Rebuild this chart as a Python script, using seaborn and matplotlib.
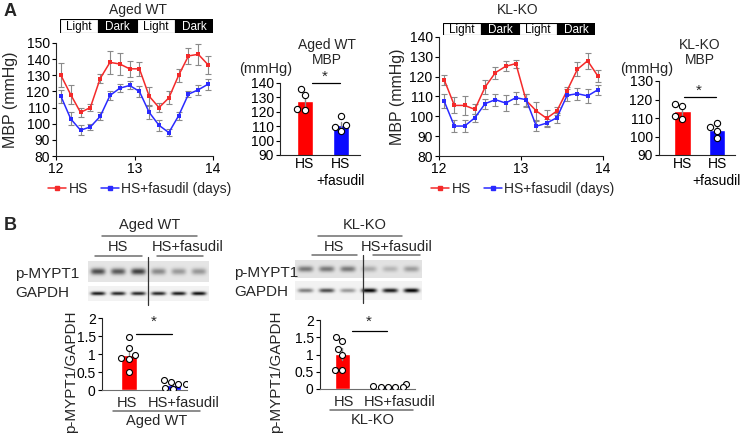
import numpy as np
import pandas as pd
import matplotlib
matplotlib.use("Agg")
import matplotlib.pyplot as plt
from matplotlib.lines import Line2D
from matplotlib.patches import Rectangle
import seaborn as sns

sns.set_style("ticks")
plt.rcParams["font.family"] = ["Liberation Sans", "DejaVu Sans"]
plt.rcParams["axes.linewidth"] = 0.8

W, H, DPI = 748, 441, 100
RED = "#ff0000"; BLUE = "#0a0aff"
RED_L = "#f42a2a"; BLUE_L = "#2a2aff"
ERR = "#8a8a8a"; GRAY = "#6e6e6e"

# ---------------- data ----------------
days = [12.0625, 12.1875, 12.3125, 12.4375, 12.5625, 12.6875, 12.8125, 12.9375,
        13.0625, 13.1875, 13.3125, 13.4375, 13.5625, 13.6875, 13.8125, 13.9375]
phases = ["Light", "Dark", "Light", "Dark"]
groups = ["HS", "HS+fasudil"]

wt_hs = [130, 118, 107, 110, 128, 138, 137, 134, 134, 117, 110, 116, 130, 142, 143, 136.5]
wt_hs_err = [7.5, 6, 3, 2, 3, 7, 7, 5, 4.5, 5.5, 3, 4, 4, 5, 6.5, 5.5]
wt_fa = [117, 103, 96, 98, 104.5, 117.5, 122, 123.7, 120, 107, 99, 94.5, 105, 118.3, 121, 124.5]
wt_fa_err = [4, 4, 3, 2, 2.5, 2.5, 2.5, 2.5, 3.5, 4, 3.5, 2, 2.5, 2, 3, 3.5]

ko_hs = [118.5, 105.5, 105.5, 103.5, 114.8, 122, 125.2, 126.6, 108, 102.7, 99, 102.7, 113, 123.7, 128, 120.3]
ko_hs_err = [2.5, 4, 5, 2.5, 3.5, 3, 2.5, 2, 3.5, 4.5, 4, 2, 2, 3.5, 4, 3]
ko_fa = [107.7, 95.1, 95.1, 99.3, 106.4, 108.4, 106.7, 109.4, 108.4, 95, 96.6, 99.3, 110.6, 111.4, 110.3, 113.4]
ko_fa_err = [3.5, 3, 3, 2, 2.5, 3, 4, 3, 3, 2.5, 2, 2.5, 3, 3, 3.5, 2.5]

wt_mbp_hs = [136, 131.5, 121.5, 122]
wt_mbp_fa = [117, 110.5, 109.5, 106.5]
ko_mbp_hs = [117.8, 116.5, 109.7, 111]
ko_mbp_fa = [107.5, 105, 99, 103]

wt_ratio_hs = [1.46, 1.18, 0.96, 0.87, 0.90, 0.49]
wt_ratio_fa = [0.16, 0.28, 0.22, 0.05, 0.03, 0.16]
ko_ratio_hs = [1.50, 1.40, 1.16, 1.00, 0.54, 0.54]
ko_ratio_fa = [0.15, 0.10, 0.07, 0.05, 0.07, 0.06]

# blot band intensities (lanes: HS x3, HS+fasudil x3)
wt_pmypt1 = [0.60, 0.55, 0.65, 0.36, 0.30, 0.31]
wt_gapdh = [0.85, 0.80, 0.80, 0.80, 0.85, 0.90]
ko_pmypt1 = [0.42, 0.42, 0.42, 0.22, 0.18, 0.28]
ko_gapdh = [0.45, 0.65, 0.35, 0.95, 0.85, 0.95]

# ---------------- helpers ----------------
fig = plt.figure(figsize=(W / DPI, H / DPI), dpi=DPI)


def add_ax(l, t, r, b):
    return fig.add_axes([l / W, 1 - b / H, (r - l) / W, (b - t) / H])


def ftext(x, y, s, **kw):
    kw.setdefault("ha", "center")
    kw.setdefault("va", "center")
    kw.setdefault("fontsize", 10)
    fig.text(x / W, 1 - y / H, s, **kw)


def hline(x0, x1, y, color="black", lw=0.9):
    fig.add_artist(Line2D([x0 / W, x1 / W], [1 - y / H, 1 - y / H],
                          transform=fig.transFigure, color=color, lw=lw))


def vline(x, y0, y1, color="#333333", lw=0.9):
    fig.add_artist(Line2D([x / W, x / W], [1 - y0 / H, 1 - y1 / H],
                          transform=fig.transFigure, color=color, lw=lw))


def style_ax(ax):
    sns.despine(ax=ax)
    ax.tick_params(labelsize=10, length=3, width=0.8, pad=1.5, colors="black")


def phase_bar(box):
    ax = add_ax(*box)
    ax.set_xlim(0, len(phases)); ax.set_ylim(0, 1); ax.set_axis_off()
    for i, p in enumerate(phases):
        dark = p == "Dark"
        ax.add_patch(Rectangle((i, 0), 1, 1, facecolor="black" if dark else "white",
                               edgecolor="black", lw=0.8))
        ax.text(i + 0.5, 0.45, p, ha="center", va="center", fontsize=8.5,
                color="white" if dark else "black")


def line_panel(box, ylim, ystep, hs, hs_err, fa, fa_err, ylab_x):
    ax = add_ax(*box)
    df = pd.DataFrame({"day": days * 2, "mbp": hs + fa,
                       "grp": ["HS"] * len(days) + ["HS+fasudil"] * len(days)})
    for y, e in [(hs, hs_err), (fa, fa_err)]:
        ax.errorbar(days, y, yerr=e, fmt="none", ecolor=ERR, elinewidth=0.8,
                    capsize=2.2, capthick=0.8, zorder=1)
    sns.lineplot(data=df, x="day", y="mbp", hue="grp", palette=[RED_L, BLUE_L],
                 marker="s", markersize=3.2, markeredgewidth=0, linewidth=1.1,
                 errorbar=None, sort=False, legend=False, ax=ax, zorder=3)
    ax.set_xlim(12, 14)
    ax.set_ylim(*ylim)
    ax.set_xticks([12, 13, 14])
    ax.set_yticks(np.arange(ylim[0], ylim[1] + 1, ystep))
    ax.set_xlabel("")
    ax.set_ylabel("MBP (mmHg)", fontsize=11.5)
    ax.yaxis.set_label_coords(ylab_x, 0.5)
    style_ax(ax)
    return ax


def legend_at(x, y):
    handles = [Line2D([], [], color=RED_L, marker="s", markersize=3, lw=1.1),
               Line2D([], [], color=BLUE_L, marker="s", markersize=3, lw=1.1)]
    fig.legend(handles, ["HS", "HS+fasudil (days)"], loc="center left",
               bbox_to_anchor=(x / W, 1 - y / H), ncol=2, frameon=False, fontsize=10,
               handlelength=1.3, handletextpad=0.2, columnspacing=0.9,
               borderpad=0, borderaxespad=0)


def bar_panel(box, hs, fa, xlim, ylim, yticks, width, yticklabels=None, dot=4.5):
    ax = add_ax(*box)
    df = pd.DataFrame({"grp": ["HS"] * len(hs) + ["HS+fasudil"] * len(fa),
                       "val": hs + fa})
    sns.barplot(data=df, x="grp", y="val", hue="grp", order=groups,
                palette=[RED, BLUE], saturation=1, width=width, errorbar="se",
                err_kws={"color": ERR, "linewidth": 1.0}, capsize=0,
                legend=False, ax=ax)
    sns.swarmplot(data=df, x="grp", y="val", order=groups, color="white",
                  edgecolor="black", linewidth=0.8, size=dot, ax=ax, zorder=4)
    ax.set_xlim(*xlim)
    ax.set_ylim(*ylim)
    ax.set_yticks(yticks)
    if yticklabels is not None:
        ax.set_yticklabels(yticklabels)
    ax.set_xlabel(""); ax.set_ylabel("")
    style_ax(ax)
    ax.tick_params(axis="x", length=0)
    return ax


def blot(box, levels, bg, band_h):
    l, t, r, b = box
    ax = add_ax(l, t, r, b)
    ax.set_axis_off()
    w = int(round((r - l) * 3)); h = int(round((b - t) * 3))
    xs = (np.arange(w) + 0.5) / w * len(levels)
    ys = (np.arange(h) + 0.5) / h - 0.5
    img = np.full((h, w), bg)
    prof_y = np.exp(-(ys / band_h) ** 2)
    for i, v in enumerate(levels):
        prof_x = np.exp(-((xs - (i + 0.5)) / 0.36) ** 4)
        img = img - v * np.outer(prof_y, prof_x)
    ax.imshow(np.clip(img, 0, 1), cmap="gray", vmin=0, vmax=1, aspect="auto",
              interpolation="bilinear")


# ---------------- Panel A ----------------
ftext(4, 11, "A", fontsize=13, fontweight="bold", ha="left")

ftext(138, 10, "Aged WT")
phase_bar((60, 19, 213, 33))
line_panel((56, 43, 213, 156), (80, 150), 10, wt_hs, wt_hs_err, wt_fa, wt_fa_err, -0.245)
legend_at(48, 189)

ftext(518, 10, "KL-KO")
phase_bar((443, 23, 595, 35))
line_panel((439, 37, 603, 156), (80, 140), 10, ko_hs, ko_hs_err, ko_fa, ko_fa_err, -0.21)
legend_at(431, 189)

# MBP summary bars
ax = bar_panel((280, 83, 360, 155), wt_mbp_hs, wt_mbp_fa, (-0.69, 1.53), (90, 140),
               np.arange(90, 141, 10), 0.44)
ax.set_xticks([0, 1]); ax.set_xticklabels(["HS", "HS\n+fasudil"], linespacing=1.3)
ftext(327, 45, "Aged WT"); ftext(327, 60, "MBP"); ftext(266, 69, "(mmHg)", fontsize=10.5)
hline(312, 340, 83); ftext(325, 77, "*", fontsize=11)

ax = bar_panel((659, 81, 735, 155), ko_mbp_hs, ko_mbp_fa, (-0.68, 1.52), (90, 130),
               np.arange(90, 131, 10), 0.48)
ax.set_xticks([0, 1]); ax.set_xticklabels(["HS", "HS\n+fasudil"], linespacing=1.3)
ftext(700, 45, "KL-KO"); ftext(700, 60, "MBP"); ftext(647, 69, "(mmHg)", fontsize=10.5)
hline(684, 716, 97); ftext(699, 91, "*", fontsize=11)

# ---------------- Panel B ----------------
ftext(4, 225, "B", fontsize=13, fontweight="bold", ha="left")

# Aged WT blot
ftext(150, 225, "Aged WT", fontsize=10.5); hline(102, 197, 236, GRAY, 1.1)
ftext(118, 247, "HS", fontsize=10.5); hline(95, 142, 256, GRAY, 1.1)
ftext(188, 247, "HS+fasudil", fontsize=10.5); hline(157, 203, 256, GRAY, 1.1)
ftext(15, 274, "p-MYPT1", ha="left", fontsize=11)
ftext(15, 293, "GAPDH", ha="left", fontsize=11)
blot((88, 261, 209, 282), wt_pmypt1, 0.90, 0.15)
blot((88, 286, 209, 301), wt_gapdh, 0.95, 0.12)
vline(148, 257, 305)

# KL-KO blot
ftext(365, 225, "KL-KO", fontsize=10.5); hline(318, 402, 236, GRAY, 1.1)
ftext(334, 247, "HS", fontsize=10.5); hline(312, 357, 255, GRAY, 1.1)
ftext(397, 247, "HS+fasudil", fontsize=10.5); hline(373, 420, 255, GRAY, 1.1)
ftext(234, 273, "p-MYPT1", ha="left", fontsize=11)
ftext(234, 292, "GAPDH", ha="left", fontsize=11)
blot((295, 260, 422, 278), ko_pmypt1, 0.89, 0.16)
blot((295, 281, 422, 300), ko_gapdh, 0.95, 0.11)
vline(363, 255, 303)

# ratio bars
yt = [0, 0.5, 1, 1.5, 2]; ytl = ["0", "0.5", "1", "1.5", "2"]
ax = bar_panel((102, 318, 187, 390), wt_ratio_hs, wt_ratio_fa, (-0.6, 1.32), (0, 2),
               yt, 0.36, ytl, dot=4.3)
ax.set_xticks([0, 1]); ax.set_xticklabels(["", ""])
ax.spines["bottom"].set_color(GRAY)
ax.set_ylabel("p-MYPT1/GAPDH", fontsize=11)
ax.yaxis.set_label_coords(-0.28, 0.26)
ftext(127, 403, "HS", fontsize=10.5); ftext(184, 403, "HS+fasudil", fontsize=10.5)
hline(113, 200, 411, GRAY, 1.1); ftext(157, 421, "Aged WT", fontsize=10.5)
hline(136, 172, 334); ftext(154, 322, "*", fontsize=11)

ax = bar_panel((320, 320, 415, 389), ko_ratio_hs, ko_ratio_fa, (-0.49, 1.59), (0, 2),
               yt, 0.33, ytl, dot=4.3)
ax.set_xticks([0, 1]); ax.set_xticklabels(["", ""])
ax.spines["bottom"].set_color(GRAY)
ax.set_ylabel("p-MYPT1/GAPDH", fontsize=11)
ax.yaxis.set_label_coords(-0.39, 0.25)
ftext(344, 402, "HS", fontsize=10.5); ftext(400, 402, "HS+fasudil", fontsize=10.5)
hline(330, 413, 410, GRAY, 1.1); ftext(373, 420, "KL-KO", fontsize=10.5)
hline(352, 387, 331); ftext(369, 322, "*", fontsize=11)

fig.savefig("out.png", dpi=DPI)
